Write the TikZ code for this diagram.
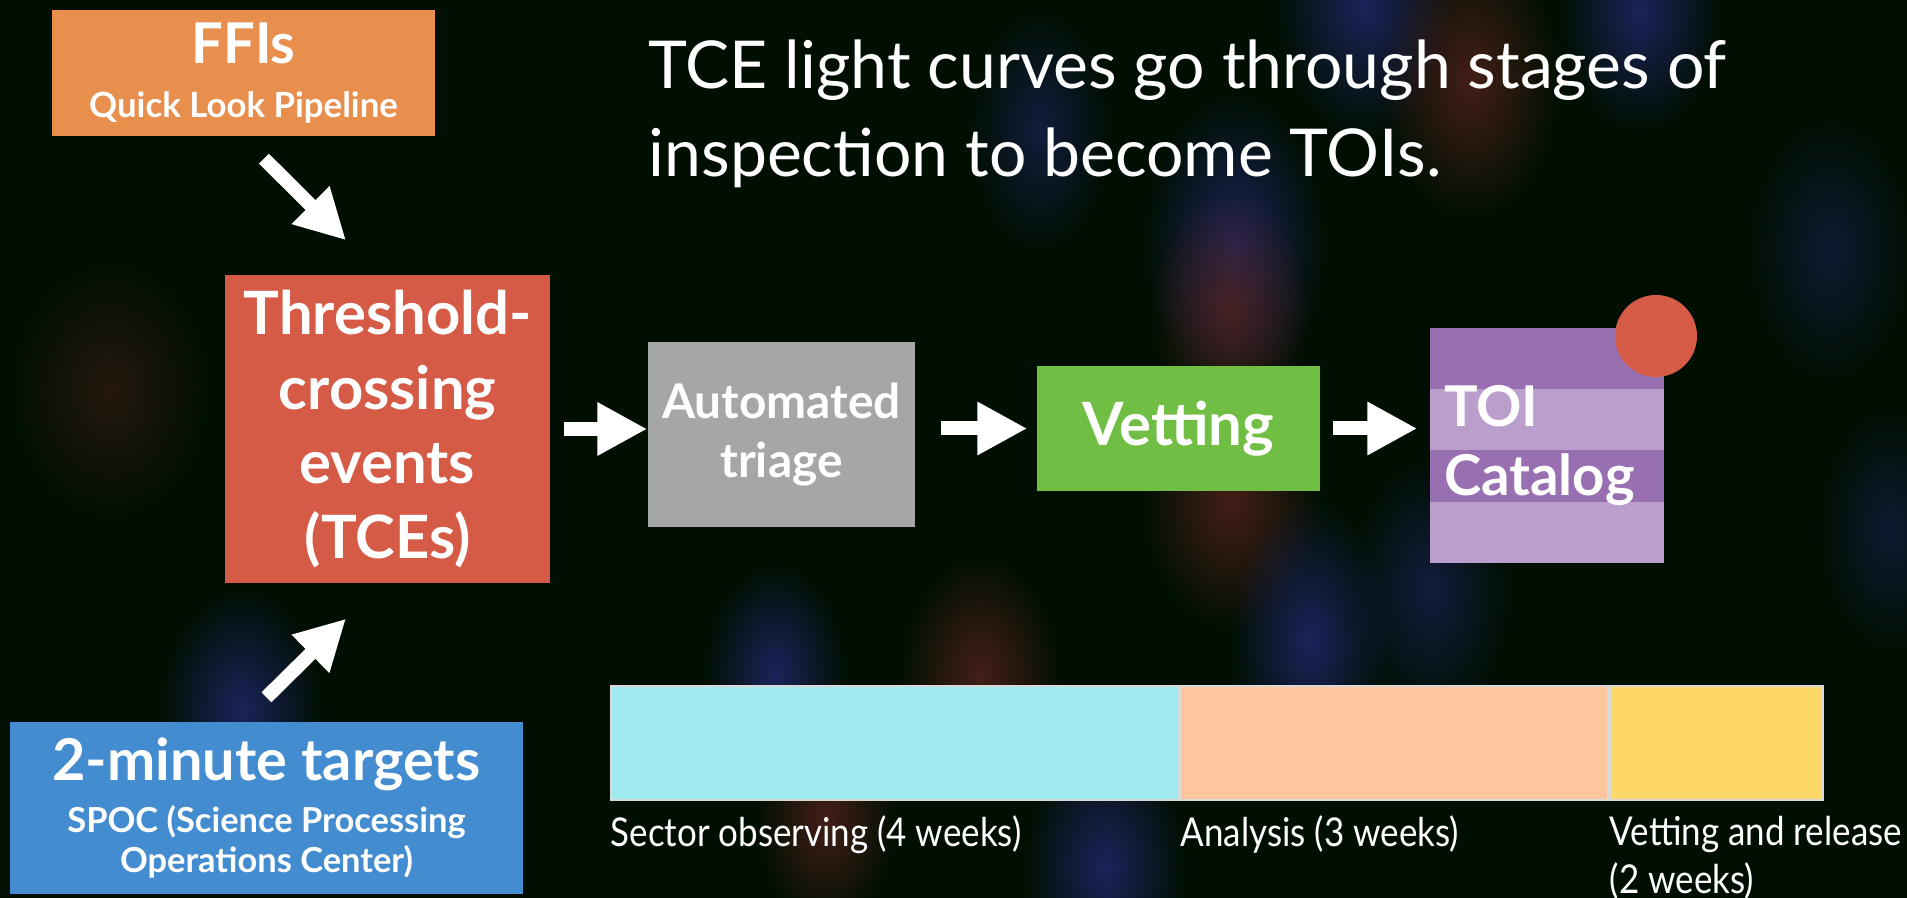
\documentclass[tikz,border=0pt]{standalone}
\usepackage{fontspec}
\setmainfont{Lato}
\newfontfamily\condensed[FakeStretch=0.88]{Lato}
\usetikzlibrary{arrows.meta,positioning,fadings}
\definecolor{skydark}{HTML}{010F03}
\definecolor{ffiorange}{HTML}{E88F4E}
\definecolor{tcered}{HTML}{D55B47}
\definecolor{triagegray}{HTML}{A6A6A6}
\definecolor{vetgreen}{HTML}{70BF44}
\definecolor{toidark}{HTML}{986FB1}
\definecolor{toilight}{HTML}{BA9ECC}
\definecolor{spocblue}{HTML}{438CCF}
\definecolor{obscyan}{HTML}{9EEAEE}
\definecolor{anapeach}{HTML}{FFC59C}
\definecolor{relyellow}{HTML}{FDD868}
\definecolor{glowred}{HTML}{5A241E}
\definecolor{glowblue}{HTML}{242A78}

\tikzfading[name=starglow,inner color=transparent!0,outer color=transparent!100]

\begin{document}
\begin{tikzpicture}[
  stage/.style={inner sep=0pt,text=white,align=center},
  bar/.style={inner sep=0pt,minimum height=1.14cm,draw=white!85!black,line width=0.6pt},
  weeks/.style={inner sep=0pt,text=white,font=\condensed\fontsize{11.3}{13.7}\selectfont,align=left},
  bigarr/.style={white,line width=0.14cm,-{Triangle[length=0.5cm,width=0.5cm]}},
  glowr/.style={glowred,path fading=starglow,fill opacity=0.75},
  glowb/.style={glowblue,path fading=starglow,fill opacity=0.75},
]
  % night sky with a few out-of-focus stars
  \fill[skydark] (0,0) rectangle (19.07,-8.98);
  \useasboundingbox (0,0) rectangle (19.07,-8.98);
  \fill[glowr,fill opacity=0.4] (1.10,-3.90) ellipse (1.0 and 1.3);
  \fill[glowb] (2.41,-7.10) ellipse (0.8 and 1.2);
  \fill[glowb] (13.65,-0.05) ellipse (0.9 and 1.3);
  \fill[glowb] (16.40,-0.10) ellipse (0.8 and 1.2);
  \fill[glowr] (14.70,-0.80) ellipse (0.9 and 1.4);
  \fill[glowb,fill opacity=0.5] (10.40,-1.30) ellipse (0.7 and 1.2);
  \fill[glowb] (12.35,-2.45) ellipse (0.9 and 1.5);
  \fill[glowr] (12.30,-3.10) ellipse (0.8 and 1.2);
  \fill[glowr] (12.31,-5.00) ellipse (0.9 and 1.3);
  \fill[glowb] (13.10,-6.40) ellipse (0.8 and 1.4);
  \fill[glowb,fill opacity=0.5] (14.30,-5.90) ellipse (0.8 and 1.3);
  \fill[glowr] (9.80,-6.75) ellipse (0.8 and 1.2);
  \fill[glowb] (7.75,-6.75) ellipse (0.7 and 1.1);
  \fill[glowr] (8.26,-8.17) ellipse (0.7 and 1.1);
  \fill[glowb] (11.05,-8.67) ellipse (0.8 and 1.3);
  \fill[glowb,fill opacity=0.4] (18.30,-2.50) ellipse (0.8 and 1.3);
  \fill[glowb,fill opacity=0.4] (18.90,-5.30) ellipse (0.7 and 1.2);

  % title
  \node[text=white,anchor=base west,align=left,inner sep=0pt,
        font=\fontsize{18.8}{25.3}\selectfont] (title) at (6.48,-1.77)
    {TCE light curves go through stages of\\inspection to become TOIs.};

  % sources
  \node[stage,fill=ffiorange,minimum width=3.83cm,minimum height=1.26cm,
        font=\bfseries\fontsize{16}{20}\selectfont] (ffi) at (2.435,-0.73)
    {FFIs\\[-0.17cm]{\fontsize{9.9}{11}\selectfont Quick Look Pipeline}};
  \node[stage,fill=spocblue,minimum width=5.13cm,minimum height=1.72cm,
        font=\bfseries\fontsize{16.4}{14.8}\selectfont] (spoc) at (2.665,-8.08)
    {2-minute targets\\{\fontsize{9.8}{11}\selectfont SPOC (Science Processing}\\[-0.12cm]
     {\fontsize{9.8}{11}\selectfont Operations Center)}};

  % pipeline stages
  \node[stage,fill=tcered,minimum width=3.25cm,minimum height=3.08cm,
        font=\bfseries\fontsize{17}{21.3}\selectfont] (tce) at (3.875,-4.29)
    {Threshold-\\crossing\\events\\(TCEs)};
  \node[stage,fill=triagegray,minimum width=2.67cm,minimum height=1.85cm,
        font=\bfseries\fontsize{13.6}{16.8}\selectfont] (triage) at (7.815,-4.345)
    {Automated\\triage};
  \node[stage,fill=vetgreen,minimum width=2.83cm,minimum height=1.25cm,
        font=\bfseries\fontsize{17}{20}\selectfont] (vet) at (11.785,-4.285)
    {Vetting};

  % catalog with its stripes
  \fill[toidark] (14.30,-3.28) rectangle (16.64,-3.89);
  \fill[toilight] (14.30,-3.89) rectangle (16.64,-4.50);
  \fill[toidark] (14.30,-4.50) rectangle (16.64,-5.02);
  \fill[toilight] (14.30,-5.02) rectangle (16.64,-5.63);
  \node[stage,align=left,minimum width=2.34cm,minimum height=2.35cm,
        text width=2.06cm,inner xsep=0.14cm,
        font=\bfseries\fontsize{16}{19.9}\selectfont] (toi) at (15.47,-4.455)
    {TOI\\Catalog};
  \node[circle,fill=tcered,minimum size=0.82cm,inner sep=0pt] (dot) at (16.56,-3.36) {};

  \draw[bigarr] ([xshift=0.205cm,yshift=-0.22cm]ffi.south) -- ([xshift=-0.415cm,yshift=0.34cm]tce.north);
  \draw[bigarr] ([yshift=0.24cm]spoc.north) -- ([xshift=-0.415cm,yshift=-0.35cm]tce.south);
  \draw[bigarr,shorten <=0.13cm] (tce.east) -- (tce.east -| triage.west);
  \draw[bigarr,shorten <=0.25cm,shorten >=0.09cm] (triage.east |- vet.west) -- (vet.west);
  \draw[bigarr,shorten <=0.12cm,shorten >=0.12cm] (vet.east) -- (vet.east -| toi.west);

  % time line of one sector
  \node[bar,fill=obscyan,minimum width=5.68cm,anchor=north west] (sector) at (6.10,-6.85) {};
  \node[bar,fill=anapeach,minimum width=4.27cm,right=0pt of sector] (analysis) {};
  \node[bar,fill=relyellow,minimum width=2.13cm,right=0pt of analysis] (release) {};

  \node[weeks,below right=0.14cm and 0cm of sector.south west] (sectorlbl) {Sector observing (4 weeks)};
  \node[weeks,below right=0.14cm and 0cm of analysis.south west] (analysislbl) {Analysis (3 weeks)};
  \node[weeks,below right=0.14cm and 0cm of release.south west] (releaselbl) {Vetting and release\\(2 weeks)};
\end{tikzpicture}
\end{document}
